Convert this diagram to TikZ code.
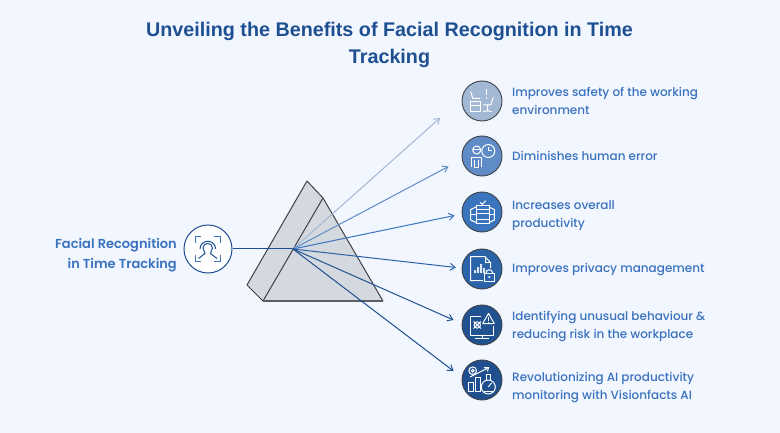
\documentclass[tikz,border=0pt]{standalone}
\usepackage{fontspec}
\setmainfont{Poppins Medium}[BoldFont={Poppins SemiBold}]
\newfontfamily\titlefont{Liberation Sans}[BoldFont={Liberation Sans Bold}]
\usetikzlibrary{arrows.meta}
\definecolor{pagebg}{HTML}{F1F6FF}
\definecolor{titleblue}{HTML}{1D4F91}
\definecolor{textblue}{HTML}{3A72BE}
\definecolor{prismgray}{HTML}{D4D9E0}
\definecolor{prismline}{HTML}{3F4247}
\definecolor{rayone}{HTML}{A3B8D4}
\definecolor{raytwo}{HTML}{5F8CC6}
\definecolor{raythree}{HTML}{3A74BC}
\definecolor{rayfour}{HTML}{2A63A8}
\definecolor{rayfive}{HTML}{20528F}
\definecolor{raysix}{HTML}{1F4F8E}
\tikzset{
  itemlabel/.style={anchor=west,align=left,text=textblue,font=\fontsize{12}{18}\selectfont,inner sep=0pt},
  iconring/.style={circle,draw=prismline,line width=0.9pt,minimum size=40pt,inner sep=0pt},
  raytip/.style={-{Straight Barb[length=5pt,width=7pt]},line width=1pt},
  glyph/.style={draw=white,line width=1pt,fill=none}
}
\begin{document}
\begin{tikzpicture}[x=1pt,y=-1pt]
\useasboundingbox[fill=pagebg] (0,0) rectangle (780,433);

\node[text=titleblue,align=center,font=\titlefont\bfseries\fontsize{19.75}{27}\selectfont] (title) at (389.5,45) {Unveiling the Benefits of Facial Recognition in Time\\Tracking};

% prism
\fill[prismgray] (307,181) -- (323,198) -- (383,301) -- (263,301) -- (247,285) -- cycle;
\draw[prismline,line width=1pt,line join=round] (263,301) -- (247,285) -- (307,181) -- (323,198) -- (383,301);
\draw[prismline,line width=1pt] (323,198) -- (263,301);
\draw[prismline!85,line width=1.6pt] (263,301) -- (383,301);

% source
\node[circle,draw=titleblue,fill=white,line width=1pt,minimum size=48pt,inner sep=0pt] (source) at (208,249) {};
\node[anchor=east,align=right,text=textblue,inner sep=0pt,font=\bfseries\fontsize{13}{20}\selectfont] (sourcelabel) at (177,255) {Facial Recognition\\in Time Tracking};
\coordinate (focus) at (293,249);
\draw[titleblue,line width=1pt] (source) -- (focus);

% rays
\coordinate (endone) at (440,118);
\coordinate (endtwo) at (448.5,166.5);
\coordinate (endthree) at (454.5,215.5);
\coordinate (endfour) at (456,267.5);
\coordinate (endfive) at (453.5,320);
\coordinate (endsix) at (453.5,371);
\draw[raytip,rayone] (focus) -- (endone);
\draw[raytip,raytwo] (focus) -- (endtwo);
\draw[raytip,raythree] (focus) -- (endthree);
\draw[raytip,rayfour] (focus) -- (endfour);
\draw[raytip,rayfive] (focus) -- (endfive);
\draw[raytip,raysix] (focus) -- (endsix);

% items
\node[iconring,fill=rayone] (safety) at (482,101) {};
\node[iconring,fill=raytwo] (human) at (482,156) {};
\node[iconring,fill=raythree] (overall) at (482,212) {};
\node[iconring,fill=rayfour] (privacy) at (482,269) {};
\node[iconring,fill=rayfive] (unusual) at (482,325) {};
\node[iconring,fill=raysix] (monitor) at (482,380) {};

\node[itemlabel] (safetylabel) at (512,101) {Improves safety of the working\\environment};
\node[itemlabel] (humanlabel) at (512,155.5) {Diminishes human error};
\node[itemlabel] (overalllabel) at (512,215.5) {Increases overall\\productivity};
\node[itemlabel] (privacylabel) at (512,270) {Improves privacy management};
\node[itemlabel] (unusuallabel) at (512,326) {Identifying unusual behaviour \&\\reducing risk in the workplace};
\node[itemlabel] (monitorlabel) at (512,388) {Revolutionizing AI productivity\\monitoring with Visionfacts AI};

% face icon
\draw[textblue,line width=1pt] (195,243) -- (195,237) -- (201,237) (214,237) -- (220.5,237) -- (220.5,243) (220.5,255) -- (220.5,261.5) -- (214,261.5) (201,261.5) -- (195,261.5) -- (195,255);
\draw[titleblue,line width=1pt] (198.5,258.5) -- (205,253.5) -- (203,248) arc (180:360:4.7) -- (210.5,253.5) -- (217,258.5);
\draw[titleblue,line width=1pt] (200,249) arc (180:360:7.8);

% safety icon
\draw[glyph] (470.7,91.5) -- (472.7,98.3) -- (480,98.3);
\draw[glyph] (470.7,101.7) rectangle (480,112) (470.7,105.5) -- (480,105.5);
\draw[glyph] (486.7,89.3) -- (486.7,95) (486.7,97.2) -- (486.7,98.6);
\draw[glyph] (493.3,97.3) -- (490.7,105) -- (483.3,105) (487.7,105) -- (487.7,110.7) (483.3,111.7) -- (487.7,110.7) -- (491.7,111.7);

% human icon
\draw[glyph] (476.7,150) circle (4);
\draw[glyph] (472.7,149.5) -- (480.7,149.5);
\draw[glyph] (488.3,151) circle (6.5);
\draw[glyph] (488.3,147) -- (488.3,151) -- (491.5,151);
\draw[glyph] (471,167) -- (471,157.5) -- (481.5,157.5) -- (481.5,167) (474,160) -- (474,168) (478.5,160) -- (478.5,168) (474,168) -- (478.5,168);

% overall icon
\draw[glyph] (476,206) rectangle (489,224);
\draw[glyph] (476,209.5) -- (489,209.5) (476,214) -- (489,214) (476,219.5) -- (489,219.5);
\draw[glyph] (476,207) -- (470.7,209.5) -- (470.7,220) -- (476,222.5);
\draw[glyph] (489,207) -- (494.3,209.5) -- (494.3,220) -- (489,222.5);
\draw[glyph] (470.7,215) -- (476,215) (489,215) -- (494.3,215);
\draw[glyph] (480,202.3) -- (482.3,204.3) -- (485.7,200.7);

% privacy icon
\draw[glyph] (490.7,268) -- (490.7,262.7) -- (485,256.7) -- (470.7,256.7) -- (470.7,280.7) -- (483,280.7);
\draw[glyph] (485,256.7) -- (485,262.7) -- (490.7,262.7);
\fill[white!85!rayfour] (474,270) rectangle (476,273) (477,267) rectangle (479,273) (480,264) rectangle (482,273) (483,268) rectangle (485,273);
\draw[glyph] (484.3,273.3) rectangle (494.3,281);
\draw[glyph] (486,273) arc (180:360:3.3);
\fill[white] (489.3,277) circle (1.1);

% unusual icon
\draw[glyph] (481,316.5) -- (470.7,316.5) -- (470.7,335) -- (493.3,335) -- (493.3,326);
\draw[glyph] (482,335) -- (482,338) (475,338.5) -- (489,338.5);
\draw[glyph,line join=round] (488.5,313.5) -- (482.7,323.5) -- (494.3,323.5) -- cycle;
\draw[glyph] (488.5,317) -- (488.5,320.5) (488.5,321.5) -- (488.5,322.5);
\draw[glyph] (477.3,325) circle (3.2);
\draw[glyph] (473.5,321.5) -- (481,328.5) (481,321.5) -- (473.5,328.5);

% monitor icon
\draw[glyph] (468.5,382) rectangle (473,391);
\draw[glyph] (475,377) rectangle (480,391);
\draw[glyph] (486,374) -- (486,380) (490,380) -- (490,374) -- (486,374);
\draw[glyph] (470,377) -- (487,368.5) (484,367.5) -- (488.5,367.5) -- (487.5,371.5);
\draw[glyph] (472.7,370.7) circle (3.8);
\draw[glyph] (472.7,370.7) circle (1.4);
\draw[glyph,fill=raysix] (488.3,387) circle (7);
\draw[glyph] (488.3,387) -- (491.5,383);
\draw[glyph] (484,391) -- (492.5,391);
\end{tikzpicture}
\end{document}
